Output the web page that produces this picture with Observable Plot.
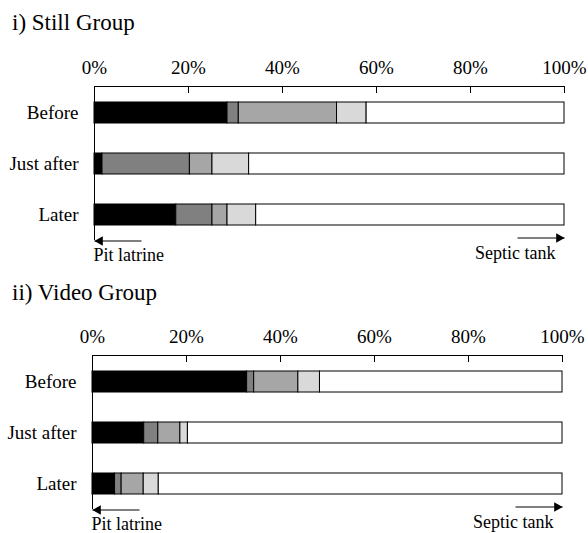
<!DOCTYPE html>
<html>
<head>
<meta charset="utf-8">
<script src="https://cdn.jsdelivr.net/npm/d3@7"></script>
<script src="https://cdn.jsdelivr.net/npm/@observablehq/plot@0.6"></script>
<style>
  html, body { margin: 0; padding: 0; background: #fff; overflow: hidden; }
  #wrap { position: relative; width: 588px; height: 533px; font-family: "Liberation Serif", "Times New Roman", serif; }
  .title { position: absolute; left: 12px; font-size: 23px; line-height: 23px; color: #000; white-space: nowrap; }
  .panel { position: absolute; left: 0; }
  .panel svg { overflow: visible; }
</style>
</head>
<body>
<div id="wrap"></div>
<script>
// ---- data ----
const categories = ["Before", "Just after", "Later"];
const types = ["Pit latrine", "Type 2", "Type 3", "Type 4", "Septic tank"];
const xTicks = [0, 20, 40, 60, 80, 100];
const panelTitles = ["i) Still Group", "ii) Video Group"];
const arrowLabels = ["Pit latrine", "Septic tank"];
const arrowFrom = [10, 90];
const arrowTo = [0, 100];

// Still group (% per category, stacked from pit latrine to septic tank)
const stillBefore = [28.3, 2.4, 20.9, 6.3, 42.1];
const stillJustAfter = [1.7, 18.6, 4.8, 7.8, 67.1];
const stillLater = [17.4, 7.7, 3.2, 6.1, 65.6];
// Video group
const videoBefore = [32.9, 1.5, 9.4, 4.6, 51.6];
const videoJustAfter = [11.0, 3.0, 4.7, 1.6, 79.7];
const videoLater = [4.8, 1.4, 4.7, 3.2, 85.9];

const colors = ["#000000", "#808080", "#a6a6a6", "#d9d9d9", "#ffffff"];

function rows(series) {
  return categories.flatMap((c, i) => types.map((t, j) => ({period: c, type: t, value: series[i][j]})));
}

function panel(series, {marginLeft, marginRight}) {
  const data = rows(series);
  const arrows = arrowLabels.map((l, i) => ({label: l, from: arrowFrom[i], to: arrowTo[i]}));
  const left = arrows.slice(0, 1), right = arrows.slice(1);
  const yLast = () => categories[categories.length - 1];
  return Plot.plot({
    width: 588,
    height: 230,
    marginTop: 46,
    marginBottom: 30,
    marginLeft,
    marginRight,
    style: {fontFamily: "'Liberation Serif', 'Times New Roman', serif", fontSize: "19px", color: "#000", background: "transparent"},
    x: {domain: [0, 100]},
    y: {domain: categories, paddingInner: 0.59, paddingOuter: 0.3},
    color: {domain: types, range: colors},
    marks: [
      Plot.barX(data, {x: "value", y: "period", fill: "type", stroke: "#000", strokeWidth: 1}),
      Plot.frame({anchor: "top", stroke: "#000"}),
      Plot.ruleX([0], {stroke: "#000"}),
      Plot.axisX({anchor: "top", label: null, ticks: xTicks, tickFormat: d => d + "%", tickSize: -6, tickPadding: 19, fontSize: 19, stroke: "#000"}),
      Plot.axisY({anchor: "left", label: null, tickSize: 0, tickPadding: 16, fontSize: 19}),
      // arrow shafts
      Plot.link(left, {x1: "from", x2: "to", y: yLast, dy: 26, stroke: "#000", strokeWidth: 1.2}),
      Plot.link(right, {x1: "from", x2: "to", y: yLast, dy: 23, stroke: "#000", strokeWidth: 1.2}),
      // arrow heads (filled triangles)
      Plot.dot(left, {x: "to", y: yLast, dy: 26, dx: 5.5, symbol: "triangle", r: 3.6, rotate: -90, fill: "#000", stroke: null}),
      Plot.dot(right, {x: "to", y: yLast, dy: 23, dx: -5.5, symbol: "triangle", r: 3.6, rotate: 90, fill: "#000", stroke: null}),
      Plot.text(left, {x: "to", text: "label", frameAnchor: "bottom", lineAnchor: "top", textAnchor: "start", dy: 8, dx: -1, fontSize: 18}),
      Plot.text(right, {x: "to", text: "label", frameAnchor: "bottom", lineAnchor: "top", textAnchor: "end", dy: 6, dx: -9, fontSize: 18})
    ]
  });
}

const wrap = document.getElementById("wrap");
const layout = [
  {series: [stillBefore, stillJustAfter, stillLater], titleTop: 11, svgTop: 40, marginLeft: 94, marginRight: 24},
  {series: [videoBefore, videoJustAfter, videoLater], titleTop: 281, svgTop: 309, marginLeft: 92, marginRight: 26}
];
layout.forEach((p, i) => {
  const t = document.createElement("div");
  t.className = "title";
  t.style.top = p.titleTop + "px";
  t.textContent = panelTitles[i];
  wrap.appendChild(t);
  const d = document.createElement("div");
  d.className = "panel";
  d.style.top = p.svgTop + "px";
  d.appendChild(panel(p.series, p));
  wrap.appendChild(d);
});
</script>
</body>
</html>
